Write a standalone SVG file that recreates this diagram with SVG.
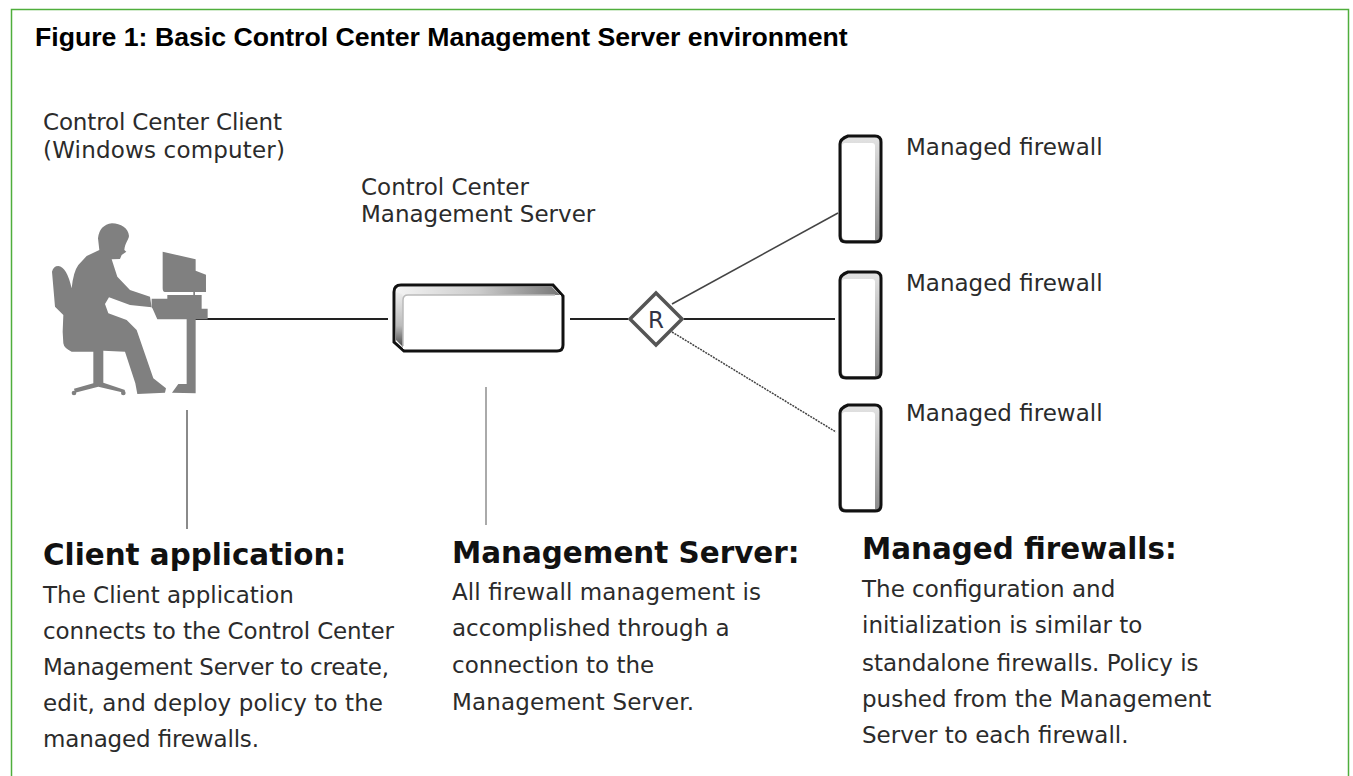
<svg xmlns="http://www.w3.org/2000/svg" width="1353" height="776" viewBox="0 0 1353 776">
<style>
text{font-family:"DejaVu Sans",Verdana,sans-serif;fill:#2b2b2b;font-size:23px}
.t{font-family:"Liberation Sans",Arial,sans-serif;font-weight:bold;font-size:26.65px;fill:#000}
.h{font-weight:bold;font-size:29.4px;fill:#111}
.c{stroke:#222;stroke-width:2;fill:none}
.p{stroke:#8a8a8a;stroke-width:2;fill:none}
.fig{fill:#808080}
</style>
<defs>
<linearGradient id="gh" x1="0" x2="1" y1="0" y2="0"><stop offset="0" stop-color="#f4f4f4"/><stop offset=".5" stop-color="#ccc"/><stop offset="1" stop-color="#777"/></linearGradient>
<linearGradient id="gv" x1="0" x2="0" y1="0" y2="1"><stop offset="0" stop-color="#eee"/><stop offset=".6" stop-color="#bbb"/><stop offset="1" stop-color="#444"/></linearGradient>
<linearGradient id="gf" x1="0" x2="0" y1="0" y2="1"><stop offset="0" stop-color="#e4e4e4"/><stop offset="1" stop-color="#8a8a8a"/></linearGradient>
<g id="fwshape">
<path d="M848 0H875Q881 0 881 6V100Q881 106 875 106H846Q840 106 840 100V8Q840 3 848 0Z" fill="url(#gf)" stroke="#111" stroke-width="3"/>
<path d="M842 10Q842 7 845 7H872Q875 7 875 10V104H846Q842 104 842 100Z" fill="#fff"/>
</g>
</defs>
<rect id="frame" x="11.5" y="9.5" width="1337" height="780" fill="#fff" stroke="#4fae3c" stroke-width="1.5"/>
<text class="t" x="35" y="46">Figure 1: Basic Control Center Management Server environment</text>
<g id="connectors">
<path class="c" d="M192 319H388"/>
<path class="c" d="M570 319H628"/>
<path class="c" d="M684 319H835"/>
<path d="M672 304L838 213" stroke="#444" stroke-width="1.5" fill="none"/>
<path d="M672 332L836 432" stroke="#444" stroke-width="1.5" stroke-dasharray="2 1" fill="none"/>
<path class="p" d="M187 410V529"/>
<path d="M486 387V525" stroke="#aaa" stroke-width="2" fill="none"/>
</g>
<g id="client" transform="translate(30 200) scale(.3333)">
<path class="fig" d="M246 70C272 70 296 85 297 108C296 120 285 128 283 150L289 155L275 165L270 177L245 178L262 230L300 270L360 290L365 322L300 315L237 292L225 312L235 340L290 360L320 390L370 535L408 565L405 578L322 582L316 550L285 455L220 452V548L285 570L282 578L205 560L135 578L132 566L190 550V455H125Q102 445 100 430L98 395L100 345L75 320L66 215Q70 198 85 198Q110 200 125 265Q130 215 145 195L170 168L208 150L204 115Q208 75 246 70Z"/>
<circle class="fig" cx="132" cy="579" r="7"/>
<circle class="fig" cx="280" cy="579" r="7"/>
<path class="fig" d="M398 155L497 178V212L528 224V276H495V285H515V326H533V358H497V580L426 578L445 552H470V358H382L368 326L365 322V296H412V285H490V276H405Q398 276 398 265Z"/>
</g>
<text x="43" y="130" textLength="239">Control Center Client</text>
<text x="43" y="158" textLength="242">(Windows computer)</text>
<g id="server">
<path d="M401 285H553L563 296V345Q563 351 557 351H404L394 342V292Q394 285 401 285Z" fill="#fff" stroke="#111" stroke-width="3"/>
<path d="M396 292Q396 287 401 287H552L561 296V298H403V344L396 340Z" fill="url(#gh)"/>
<path d="M396 292V340L404 348V300L402 294Z" fill="url(#gv)"/>
<path d="M403 349V300Q403 295 408 295H561V345Q561 349 557 349Z" fill="#fff"/>
<path d="M403 346V300Q403 295 408 295H555" fill="none" stroke="#bbb" stroke-width="1.5"/>
<text x="361" y="195">Control Center</text>
<text x="361" y="222">Management Server</text>
</g>
<g id="router">
<path d="M656 293L682 319L656 345L630 319Z" fill="#fff" stroke="#555" stroke-width="3.5"/>
<text x="656" y="327.500" text-anchor="middle" style="fill:#334">R</text>
</g>
<g id="fw1"><use href="#fwshape" y="136"/><text x="906" y="155">Managed firewall</text></g>
<g id="fw2"><use href="#fwshape" y="272"/><text x="906" y="291">Managed firewall</text></g>
<g id="fw3"><use href="#fwshape" y="405"/><text x="906" y="421">Managed firewall</text></g>
<g id="note1">
<text class="h" x="43" y="565">Client application:</text>
<text x="43" y="603">The Client application</text>
<text x="43" y="639" textLength="351">connects to the Control Center</text>
<text x="43" y="675" textLength="346">Management Server to create,</text>
<text x="43" y="711" textLength="340">edit, and deploy policy to the</text>
<text x="43" y="747" textLength="216">managed firewalls.</text>
</g>
<g id="note2">
<text class="h" x="452" y="563">Management Server:</text>
<text x="452" y="600" textLength="309">All firewall management is</text>
<text x="452" y="636">accomplished through a</text>
<text x="452" y="673">connection to the</text>
<text x="452" y="710" textLength="242">Management Server.</text>
</g>
<g id="note3">
<text class="h" x="862" y="559">Managed firewalls:</text>
<text x="862" y="597">The configuration and</text>
<text x="862" y="633">initialization is similar to</text>
<text x="862" y="671">standalone firewalls. Policy is</text>
<text x="862" y="707">pushed from the Management</text>
<text x="862" y="743">Server to each firewall.</text>
</g>
</svg>
